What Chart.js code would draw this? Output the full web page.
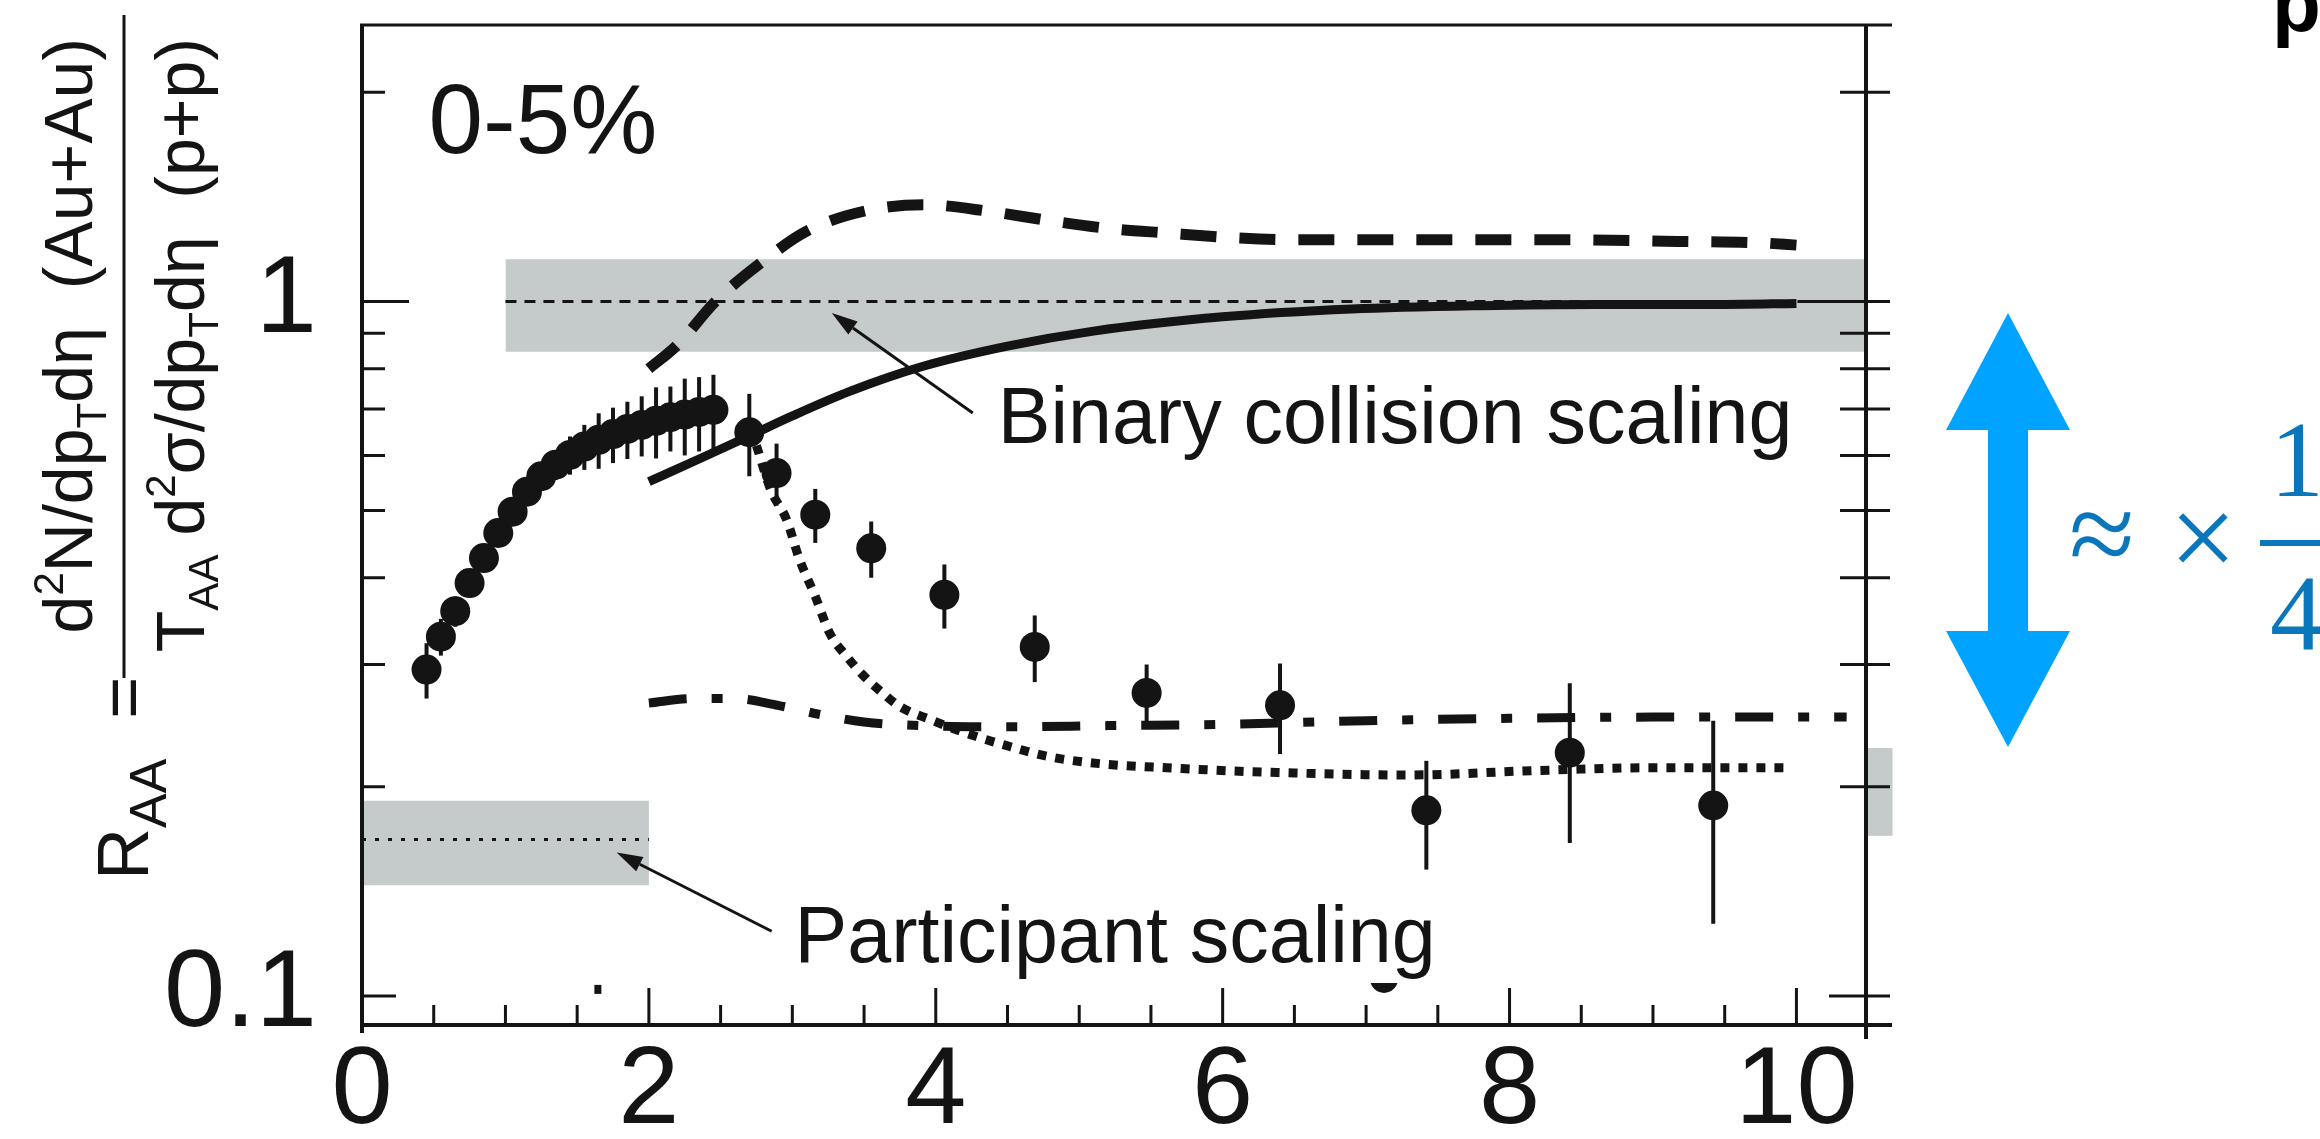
<!DOCTYPE html>
<html>
<head>
<meta charset="utf-8">
<style>
  html, body { margin: 0; padding: 0; background: #fff; }
  #wrap { width: 2320px; height: 1139px; }
</style>
<script src="https://cdn.jsdelivr.net/npm/chart.js@4.4.1/dist/chart.umd.min.js"></script>
</head>
<body>
<div id="wrap"><canvas id="raa" width="2320" height="1139"></canvas></div>
<script>
// pi0 R_AA, 0-5% central Au+Au, with model curves and scaling bands

// measured points
const ptX = [0.45, 0.55, 0.65, 0.75, 0.85, 0.95, 1.05, 1.15, 1.25, 1.35, 1.45, 1.55, 1.65, 1.75, 1.85, 1.95, 2.05, 2.15, 2.25, 2.35, 2.45,
  2.70, 2.89, 3.16, 3.55, 4.06, 4.69, 5.47, 6.40, 7.42, 8.42, 9.42]
const ptY = [0.295, 0.329, 0.358, 0.393, 0.427, 0.464, 0.498, 0.532, 0.560, 0.582, 0.601, 0.618, 0.632, 0.644, 0.655, 0.664, 0.673, 0.681, 0.687, 0.693, 0.698,
  0.648, 0.566, 0.493, 0.441, 0.378, 0.318, 0.273, 0.262, 0.185, 0.224, 0.188]
const ptErr = [0.027, 0.020, 0.018, 0.018, 0.017, 0.019, 0.017, 0.019, 0.022, 0.029, 0.038, 0.046, 0.058, 0.059, 0.062, 0.066, 0.079, 0.073, 0.087, 0.085, 0.086,
  0.088, 0.058, 0.044, 0.041, 0.040, 0.035, 0.027, 0.039, 0.033, 0.058, 0.061]

// model curves
const dashedX = [2.0, 2.2, 2.465, 2.81, 3.10, 3.51, 3.91, 4.37, 4.78, 5.18, 5.62, 6.05, 6.51, 7.44, 8.31, 9.17, 9.75, 10.0]
const dashedY = [0.80, 0.866, 1.0, 1.148, 1.262, 1.350, 1.378, 1.348, 1.308, 1.275, 1.254, 1.236, 1.227, 1.227, 1.227, 1.220, 1.214, 1.205]
const solidX = [2.0, 2.35, 2.7, 3.0, 3.4, 3.9, 4.5, 5.1, 6.0, 6.9, 7.8, 8.6, 9.5, 10.0]
const solidY = [0.550, 0.593, 0.640, 0.684, 0.742, 0.805, 0.862, 0.906, 0.950, 0.975, 0.986, 0.990, 0.990, 0.993]
const dashDotX = [2.0, 2.3, 2.6, 2.9, 3.2, 3.5, 3.9, 4.5, 5.2, 6.0, 7.0, 8.0, 9.0, 10.35]
const dashDotY = [0.264, 0.268, 0.268, 0.262, 0.254, 0.248, 0.245, 0.244, 0.245, 0.246, 0.249, 0.251, 0.252, 0.252]
const dottedX = [2.75, 2.85, 2.96, 3.05, 3.16, 3.26, 3.38, 3.49, 3.62, 3.75, 3.96, 4.21, 4.47, 4.79, 5.14, 5.61, 6.29, 7.30, 8.16, 8.96, 9.93]
const dottedY = [0.62, 0.535, 0.485, 0.425, 0.376, 0.333, 0.308, 0.290, 0.274, 0.261, 0.250, 0.239, 0.230, 0.221, 0.216, 0.213, 0.210, 0.208, 0.211, 0.213, 0.213]

// scaling expectations: [x range], central value, band low/high
const binaryX = [1.0, 10.485]
const binaryLevel = 1.0
const binaryBand = [0.846, 1.15]
const partX = [0.0, 2.0]
const partLevel = 0.168
const partBand = [0.1443, 0.191]
// edge of the neighbouring panel's band
const sideBandX = [10.485, 10.67]
const sideBand = [0.170, 0.2275]

// axes
const xMin = 0, xMax = 10.485
const yMin = 0.0908, yMax = 2.5
const xLabelTicks = [0, 2, 4, 6, 8, 10]
const yLabelTicks = [0.1, 1]
const yTickVals = [0.1, 0.2, 0.3, 0.4, 0.5, 0.6, 0.7, 0.8, 0.9, 1, 2]
const xMinorStep = 0.5

const INK = "#141414"
const GRAY = "#c5cbca"
const SANS = "'Liberation Sans', Arial, Helvetica, sans-serif"
const SERIF = "'Liberation Serif', 'DejaVu Serif', 'Times New Roman', serif"

const pts = (xs, ys) => xs.map((x, i) => ({ x, y: ys[i] }))
const flat = (xs, v) => xs.map(x => ({ x, y: v }))

function band(xs, lohi) {
  return [
    { data: flat(xs, lohi[1]), borderWidth: 0, pointRadius: 0, backgroundColor: GRAY, fill: "+1", order: 4 },
    { data: flat(xs, lohi[0]), borderWidth: 0, pointRadius: 0, fill: false, order: 4 }
  ]
}

function curve(xs, ys, width, dash) {
  return {
    data: pts(xs, ys),
    borderColor: INK,
    borderWidth: width,
    borderDash: dash,
    borderCapStyle: "butt",
    pointRadius: 0,
    fill: false,
    cubicInterpolationMode: "monotone",
    order: 1
  }
}

function arrow(ctx, x1, y1, x2, y2) {
  const ang = Math.atan2(y2 - y1, x2 - x1)
  const head = 26, half = 8
  const bx = x2 - head * Math.cos(ang), by = y2 - head * Math.sin(ang)
  ctx.beginPath()
  ctx.moveTo(x1, y1)
  ctx.lineTo(bx, by)
  ctx.stroke()
  ctx.beginPath()
  ctx.moveTo(x2, y2)
  ctx.lineTo(bx + half * Math.sin(ang), by - half * Math.cos(ang))
  ctx.lineTo(bx - half * Math.sin(ang), by + half * Math.cos(ang))
  ctx.closePath()
  ctx.fill()
}

// runs of text drawn rotated -90deg; baseline at x = baseX, first run starts at y = startY
function rotatedRuns(ctx, runs, baseX, startY) {
  ctx.save()
  ctx.translate(baseX, startY)
  ctx.rotate(-Math.PI / 2)
  ctx.textBaseline = "alphabetic"
  ctx.textAlign = "left"
  let u = 0
  for (const r of runs) {
    ctx.font = `${r.s}px ${SANS}`
    ctx.fillText(r.t, u, r.dy || 0)
    u += ctx.measureText(r.t).width
  }
  ctx.restore()
}

function runsLength(ctx, runs) {
  let w = 0
  for (const r of runs) {
    ctx.font = `${r.s}px ${SANS}`
    w += ctx.measureText(r.t).width
  }
  return w
}

const S = 68
const sup = t => ({ t, s: S * 0.62, dy: -S * 0.42 })
const sub = t => ({ t, s: S * 0.62, dy: S * 0.2 })
const txt = t => ({ t, s: S })
const numerRuns = [txt("d"), sup("2"), txt("N/dp"), sub("T"), txt("d\u03b7  (Au+Au)")]
const denomRuns = [txt("T"), sub("AA"), txt(" d"), sup("2"), txt("\u03c3/dp"), sub("T"), txt("d\u03b7  (p+p)")]
const raaRuns = [{ t: "R", s: 72 }, { t: "AA", s: 52, dy: 18 }, { t: "  =", s: 72 }]

const errorBars = {
  id: "errorBars",
  beforeDatasetDraw(chart, args) {
    if (chart.data.datasets[args.index].label !== "data") return
    const { ctx, scales: { x, y } } = chart
    ctx.save()
    ctx.strokeStyle = INK
    ctx.lineWidth = 4
    ptX.forEach((v, i) => {
      const px = x.getPixelForValue(v)
      ctx.beginPath()
      ctx.moveTo(px, y.getPixelForValue(ptY[i] + ptErr[i]))
      ctx.lineTo(px, y.getPixelForValue(ptY[i] - ptErr[i]))
      ctx.stroke()
    })
    ctx.restore()
  }
}

const frame = {
  id: "frame",
  afterDraw(chart) {
    const { ctx, chartArea: a, scales: { x, y } } = chart
    const edge = a.right + 26
    ctx.save()

    // piece of the next panel's band sticking out on the right
    ctx.fillStyle = GRAY
    const sx0 = x.getPixelForValue(sideBandX[0]), sx1 = x.getPixelForValue(sideBandX[1])
    const sy0 = y.getPixelForValue(sideBand[1]), sy1 = y.getPixelForValue(sideBand[0])
    ctx.fillRect(sx0, sy0, sx1 - sx0, sy1 - sy0)

    ctx.strokeStyle = INK
    ctx.fillStyle = INK
    ctx.lineCap = "butt"

    // box
    ctx.lineWidth = 4
    ctx.beginPath()
    ctx.moveTo(a.left, a.top); ctx.lineTo(a.left, a.bottom + 8)
    ctx.moveTo(a.right, a.top); ctx.lineTo(a.right, a.bottom + 14)
    ctx.stroke()
    ctx.lineWidth = 3
    ctx.beginPath()
    ctx.moveTo(a.left - 2, a.top); ctx.lineTo(edge, a.top)
    ctx.stroke()
    ctx.lineWidth = 4
    ctx.beginPath()
    ctx.moveTo(a.left - 2, a.bottom); ctx.lineTo(edge, a.bottom)
    ctx.stroke()

    // inward ticks
    ctx.lineWidth = 3
    ctx.beginPath()
    for (const v of yTickVals) {
      const py = y.getPixelForValue(v)
      const inL = v === 1 ? 47 : v === 0.1 ? 34 : 23
      const inR = v === 1 ? 58 : v === 0.1 ? 37 : 26
      ctx.moveTo(a.left, py); ctx.lineTo(a.left + inL, py)
      ctx.moveTo(a.right - inR, py); ctx.lineTo(a.right + 24, py)
    }
    for (let t = xMinorStep; t <= xMax; t += xMinorStep) {
      const px = x.getPixelForValue(t)
      const len = Math.abs(t % 2) < 1e-6 ? 37 : 20
      ctx.moveTo(px, a.bottom); ctx.lineTo(px, a.bottom - len)
    }
    ctx.stroke()

    // stray marks near the bottom axis
    ctx.fillRect(x.getPixelForValue(1.62), y.getPixelForValue(0.1) - 11, 7, 9)
    ctx.save()
    ctx.beginPath()
    ctx.rect(x.getPixelForValue(7.0), y.getPixelForValue(0.1) - 13, 60, 20)
    ctx.clip()
    ctx.beginPath()
    ctx.arc(x.getPixelForValue(7.125), y.getPixelForValue(0.1) - 17, 14, 0, Math.PI * 2)
    ctx.fill()
    ctx.restore()

    // labels and arrows inside the frame
    ctx.textBaseline = "alphabetic"
    ctx.textAlign = "left"
    ctx.font = `98px ${SANS}`
    ctx.fillText("0-5%", x.getPixelForValue(0.464), y.getPixelForValue(1.638))
    ctx.font = `79px ${SANS}`
    ctx.fillText("Binary collision scaling", x.getPixelForValue(4.432), y.getPixelForValue(0.625))
    ctx.fillText("Participant scaling", x.getPixelForValue(3.016), y.getPixelForValue(0.112))
    ctx.lineWidth = 3
    arrow(ctx, x.getPixelForValue(4.258), y.getPixelForValue(0.6907), x.getPixelForValue(3.275), y.getPixelForValue(0.962))
    arrow(ctx, x.getPixelForValue(2.856), y.getPixelForValue(0.1239), x.getPixelForValue(1.775), y.getPixelForValue(0.1609))

    // y-axis title: R_AA = numerator / denominator
    const topEnd = 38
    rotatedRuns(ctx, numerRuns, 92, topEnd + runsLength(ctx, numerRuns))
    rotatedRuns(ctx, denomRuns, 204, topEnd + runsLength(ctx, denomRuns))
    ctx.fillRect(122.5, 15, 3, 663)
    rotatedRuns(ctx, raaRuns, 148, 880)

    // scale-factor marker at the right
    ctx.fillStyle = "#00a3ff"
    ctx.beginPath()
    ctx.moveTo(2008, 313)
    ctx.lineTo(2070, 430); ctx.lineTo(2028, 430); ctx.lineTo(2028, 631); ctx.lineTo(2070, 631)
    ctx.lineTo(2008, 747)
    ctx.lineTo(1946, 631); ctx.lineTo(1988, 631); ctx.lineTo(1988, 430); ctx.lineTo(1946, 430)
    ctx.closePath()
    ctx.fill()

    ctx.fillStyle = "#0a77bd"
    ctx.textAlign = "center"
    ctx.font = `120px ${SERIF}`
    ctx.fillText("\u2248", 2102, 574)
    ctx.fillText("\u00d7", 2203, 578)
    ctx.font = `108px ${SERIF}`
    ctx.fillText("1", 2297, 496)
    ctx.fillText("4", 2297, 650)
    ctx.fillRect(2260, 540, 60, 6)

    // cut-off heading letter in the corner
    ctx.fillStyle = "#000"
    ctx.textAlign = "left"
    ctx.font = `bold 80px ${SANS}`
    ctx.fillText("p", 2272, 31)

    ctx.restore()
  }
}

new Chart(document.getElementById("raa"), {
  type: "line",
  data: {
    datasets: [
      {
        label: "data",
        data: pts(ptX, ptY),
        showLine: false,
        pointRadius: 15,
        pointHoverRadius: 15,
        pointBackgroundColor: INK,
        pointBorderColor: INK,
        pointBorderWidth: 0,
        order: 0
      },
      curve(dashedX, dashedY, 11, [36, 23]),
      curve(solidX, solidY, 9, []),
      curve(dashDotX, dashDotY, 9, [38, 25, 11, 25]),
      curve(dottedX, dottedY, 9, [9, 9]),
      { data: flat(binaryX, binaryLevel), borderColor: INK, borderWidth: 3, borderDash: [11, 8], pointRadius: 0, fill: false, order: 2 },
      { data: flat(partX, partLevel), borderColor: INK, borderWidth: 3, borderDash: [4, 9], pointRadius: 0, fill: false, order: 2 },
      ...band(binaryX, binaryBand),
      ...band(partX, partBand)
    ]
  },
  options: {
    responsive: false,
    devicePixelRatio: 1,
    animation: false,
    layout: { padding: { left: 0, right: 454, top: 25, bottom: 0 } },
    plugins: {
      legend: { display: false },
      tooltip: { enabled: false }
    },
    scales: {
      x: {
        type: "linear",
        min: xMin,
        max: xMax,
        grid: { display: false, drawTicks: false },
        border: { display: false },
        afterBuildTicks: scale => { scale.ticks = xLabelTicks.map(value => ({ value })) },
        afterFit: scale => {
          scale.height = 114
          scale.paddingLeft = 0
          scale.paddingRight = 0
        },
        ticks: {
          autoSkip: false,
          maxRotation: 0,
          padding: 2,
          color: INK,
          font: { family: SANS, size: 110 },
          callback: v => String(v)
        }
      },
      y: {
        type: "logarithmic",
        min: yMin,
        max: yMax,
        grid: { display: false, drawTicks: false },
        border: { display: false },
        afterBuildTicks: scale => { scale.ticks = yLabelTicks.map(value => ({ value })) },
        afterFit: scale => {
          scale.width = 362
          scale.paddingTop = 0
          scale.paddingBottom = 0
        },
        ticks: {
          autoSkip: false,
          padding: 45,
          color: INK,
          font: { family: SANS, size: 110 },
          callback: v => String(v)
        }
      }
    }
  },
  plugins: [errorBars, frame]
})
</script>
</body>
</html>
